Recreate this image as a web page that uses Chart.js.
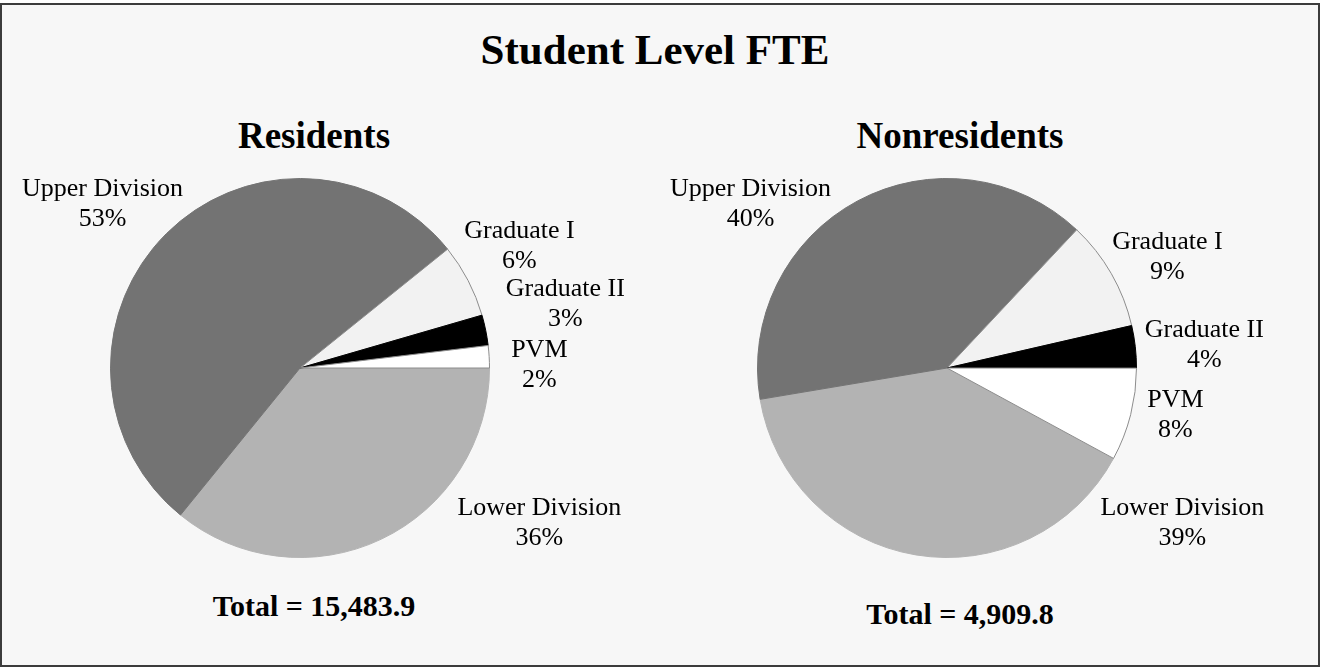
<!DOCTYPE html>
<html>
<head>
<meta charset="utf-8">
<title>Student Level FTE</title>
<script src="https://cdn.jsdelivr.net/npm/chart.js@4.4.1/dist/chart.umd.min.js"></script>
<style>
  body { margin: 0; background: #fff; font-family: 'Liberation Serif', 'Times New Roman', serif; }
  #page { position: relative; width: 1322px; height: 667px; overflow: hidden; }
  #frame { position: absolute; left: 0; top: 3px; width: 1320px; height: 664px; box-sizing: border-box;
           border: 2px solid #3c3c3c; background: #f7f7f7; }
  .txt { position: absolute; text-align: center; font-weight: bold; color: #000; white-space: nowrap; }
  #mainTitle { left: 255px; width: 800px; top: 28px; font-size: 43px; line-height: 43px; }
  .panelTitle { width: 400px; top: 117px; font-size: 37px; line-height: 37px; }
  .total { width: 400px; font-size: 30px; line-height: 30px; }
  canvas { position: absolute; top: 160px; }
</style>
</head>
<body>
<div id="page">
  <div id="frame"></div>
  <div id="mainTitle" class="txt">Student Level FTE</div>
  <div class="txt panelTitle" style="left:114px">Residents</div>
  <div class="txt panelTitle" style="left:760px">Nonresidents</div>
  <div class="txt total" style="left:114px; top:591px">Total = 15,483.9</div>
  <div class="txt total" style="left:760px; top:599px">Total = 4,909.8</div>
  <canvas id="residentsChart" width="640" height="420" style="left:0px"></canvas>
  <canvas id="nonresidentsChart" width="640" height="420" style="left:647px"></canvas>
</div>
<script>
// Categories in drawing order (clockwise)
const levels = ['Lower Division', 'Upper Division', 'Graduate I', 'Graduate II', 'PVM'];

// Share of FTE, percent
const residentShares = [35.9, 53.4, 6.3, 2.6, 1.9];
const nonresidentShares = [39.4, 39.6, 9.4, 3.6, 7.9];

const sliceColors = ['#b3b3b3', '#737373', '#f2f2f2', '#000000', '#ffffff'];
const sliceBorders = ['#b3b3b3', '#737373', '#8c8c8c', '#000000', '#8c8c8c'];

// draws "name / pct%" next to each slice, offset from pie centre in radius units
const sliceLabels = {
  id: 'sliceLabels',
  afterDatasetsDraw(chart, args, opts) {
    const ctx = chart.ctx;
    const meta = chart.getDatasetMeta(0);
    const values = chart.data.datasets[0].data;
    const sum = values.reduce((a, b) => a + b, 0);
    ctx.save();
    ctx.font = '26px "Liberation Serif", "Times New Roman", serif';
    ctx.fillStyle = '#000';
    ctx.textAlign = 'center';
    ctx.textBaseline = 'alphabetic';
    meta.data.forEach((arc, i) => {
      const off = opts.offsets[i];
      const r = arc.outerRadius;
      const x = arc.x + off[0] * r;
      const y = arc.y + off[1] * r;
      const pct = Math.round(values[i] / sum * 100) + '%';
      ctx.fillText(chart.data.labels[i], x, y - 15 + 8.6);
      ctx.fillText(pct, x, y + 15 + 8.6);
    });
    ctx.restore();
  }
};

function pieChart(canvasId, shares, rotation, offsets) {
  const ctx = document.getElementById(canvasId).getContext('2d');
  return new Chart(ctx, {
    type: 'pie',
    data: {
      labels: levels,
      datasets: [{
        data: shares,
        backgroundColor: sliceColors,
        borderColor: sliceBorders,
        borderWidth: 1
      }]
    },
    options: {
      responsive: false,
      animation: false,
      rotation: rotation,
      layout: { padding: { left: 0, right: 40, top: 18, bottom: 22 } },
      plugins: {
        legend: { display: false },
        tooltip: { enabled: false },
        sliceLabels: { offsets: offsets }
      }
    },
    plugins: [sliceLabels]
  });
}

pieChart('residentsChart', residentShares, 90, [
  [1.263, 0.811], [-1.042, -0.874], [1.158, -0.653], [1.4, -0.347], [1.263, -0.026]
]);

pieChart('nonresidentsChart', nonresidentShares, 118.5, [
  [1.242, 0.811], [-1.037, -0.874], [1.163, -0.592], [1.358, -0.132], [1.205, 0.242]
]);
</script>
</body>
</html>
